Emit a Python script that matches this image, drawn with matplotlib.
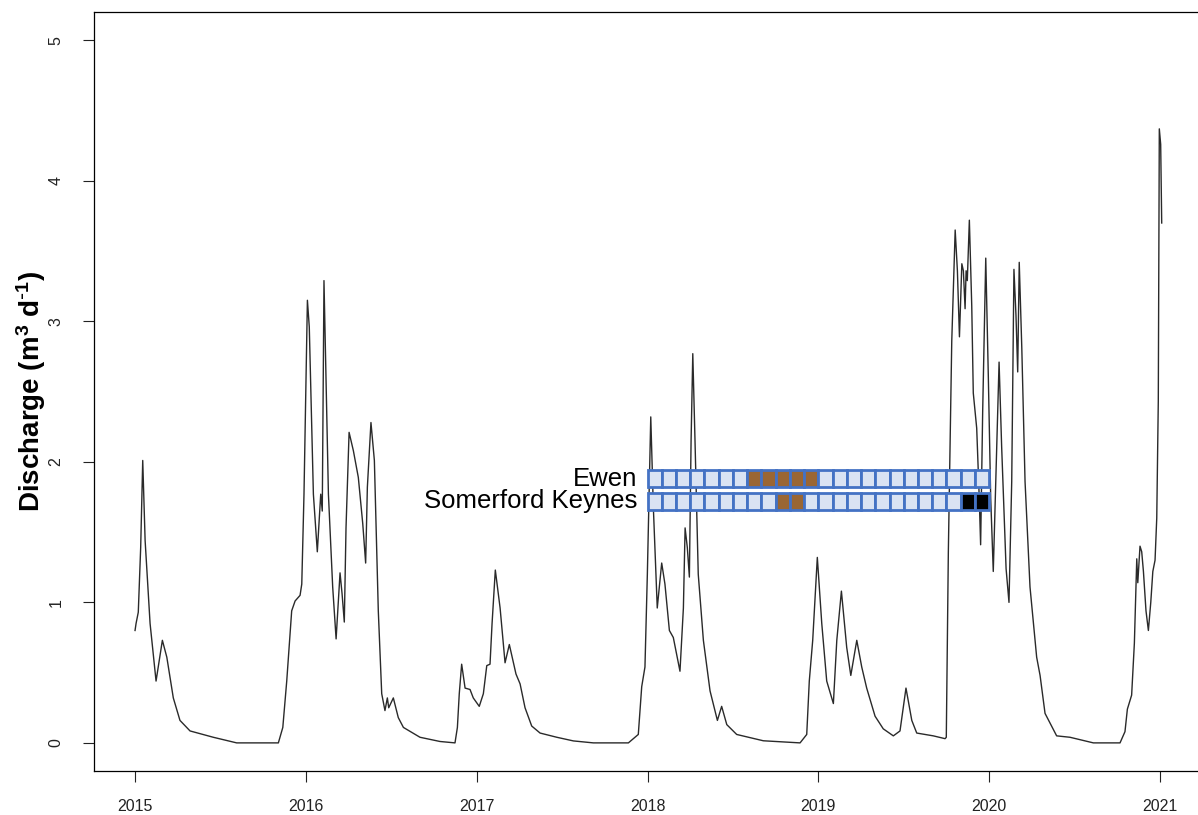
import matplotlib.pyplot as plt
from matplotlib.patches import Rectangle
import numpy as np

plt.rcParams['mathtext.default'] = 'regular'

# Discharge series (decimal year, m3/d)
flow_year = [
    2015.000, 2015.006, 2015.019, 2015.033, 2015.045, 2015.059, 2015.088, 2015.123,
    2015.160, 2015.186, 2015.224, 2015.263, 2015.322, 2015.458, 2015.595, 2015.839,
    2015.865, 2015.888, 2015.917, 2015.937, 2015.966, 2015.976, 2015.989, 2016.009,
    2016.020, 2016.044, 2016.067, 2016.087, 2016.096, 2016.106, 2016.132, 2016.157,
    2016.177, 2016.200, 2016.212, 2016.225, 2016.235, 2016.253, 2016.278, 2016.307,
    2016.333, 2016.350, 2016.360, 2016.381, 2016.401, 2016.424, 2016.444, 2016.463,
    2016.477, 2016.485, 2016.512, 2016.541, 2016.571, 2016.668, 2016.785, 2016.873,
    2016.887, 2016.898, 2016.912, 2016.932, 2016.961, 2016.980, 2017.015, 2017.039,
    2017.059, 2017.078, 2017.090, 2017.109, 2017.137, 2017.166, 2017.191, 2017.230,
    2017.254, 2017.283, 2017.322, 2017.371, 2017.469, 2017.566, 2017.683, 2017.888,
    2017.946, 2017.966, 2017.985, 2017.999, 2018.019, 2018.034, 2018.057, 2018.083,
    2018.102, 2018.128, 2018.151, 2018.190, 2018.210, 2018.220, 2018.233, 2018.245,
    2018.255, 2018.265, 2018.278, 2018.297, 2018.327, 2018.366, 2018.409, 2018.434,
    2018.464, 2018.522, 2018.678, 2018.893, 2018.932, 2018.947, 2018.967, 2018.994,
    2019.020, 2019.049, 2019.088, 2019.108, 2019.135, 2019.166, 2019.190, 2019.225,
    2019.254, 2019.283, 2019.332, 2019.380, 2019.439, 2019.478, 2019.513, 2019.547,
    2019.576, 2019.673, 2019.742, 2019.749, 2019.761, 2019.781, 2019.801, 2019.814,
    2019.826, 2019.840, 2019.849, 2019.859, 2019.865, 2019.872, 2019.884, 2019.898,
    2019.907, 2019.927, 2019.942, 2019.950, 2019.962, 2019.980, 2019.995, 2020.009,
    2020.024, 2020.044, 2020.058, 2020.073, 2020.099, 2020.116, 2020.132, 2020.145,
    2020.157, 2020.167, 2020.176, 2020.191, 2020.210, 2020.239, 2020.278, 2020.298,
    2020.327, 2020.395, 2020.473, 2020.610, 2020.766, 2020.795, 2020.809, 2020.834,
    2020.850, 2020.864, 2020.870, 2020.883, 2020.893, 2020.903, 2020.918, 2020.932,
    2020.946, 2020.958, 2020.971, 2020.981, 2020.990, 2020.996, 2021.004, 2021.010,
]
flow_value = [
    0.80, 0.85, 0.93, 1.39, 2.01, 1.44, 0.85, 0.44,
    0.73, 0.61, 0.32, 0.16, 0.085, 0.04, 0.00, 0.00,
    0.11, 0.44, 0.94, 1.01, 1.05, 1.13, 1.77, 3.15,
    2.96, 1.77, 1.36, 1.77, 1.65, 3.29, 1.77, 1.11,
    0.74, 1.21, 1.06, 0.86, 1.53, 2.21, 2.08, 1.89,
    1.56, 1.28, 1.82, 2.28, 2.01, 0.94, 0.35, 0.23,
    0.32, 0.25, 0.32, 0.18, 0.11, 0.04, 0.01, 0.00,
    0.11, 0.35, 0.56, 0.39, 0.38, 0.32, 0.26, 0.35,
    0.55, 0.56, 0.85, 1.23, 0.96, 0.57, 0.70, 0.49,
    0.42, 0.25, 0.12, 0.07, 0.04, 0.014, 0.00, 0.00,
    0.06, 0.40, 0.54, 1.20, 2.32, 1.68, 0.96, 1.28,
    1.13, 0.80, 0.75, 0.51, 0.96, 1.53, 1.39, 1.18,
    2.15, 2.77, 2.15, 1.20, 0.73, 0.37, 0.16, 0.26,
    0.13, 0.06, 0.015, 0.00, 0.06, 0.44, 0.73, 1.32,
    0.85, 0.44, 0.28, 0.73, 1.08, 0.68, 0.48, 0.73,
    0.54, 0.39, 0.19, 0.10, 0.05, 0.085, 0.39, 0.16,
    0.07, 0.05, 0.03, 0.04, 1.36, 2.86, 3.65, 3.36,
    2.89, 3.41, 3.36, 3.09, 3.36, 3.29, 3.72, 3.11,
    2.49, 2.24, 1.74, 1.41, 2.36, 3.45, 2.61, 1.74,
    1.22, 2.11, 2.71, 2.11, 1.24, 1.00, 1.86, 3.37,
    3.04, 2.64, 3.42, 2.81, 1.86, 1.11, 0.61, 0.48,
    0.21, 0.05, 0.04, 0.00, 0.00, 0.08, 0.24, 0.34,
    0.71, 1.31, 1.14, 1.40, 1.36, 1.22, 0.94, 0.80,
    1.00, 1.22, 1.30, 1.60, 2.43, 4.37, 4.26, 3.70,
]

# Monthly sampling status, Jan 2018 - Dec 2019 (0 = sampled, 1 = brown, 2 = black)
site_names = ['Ewen', 'Somerford Keynes']
ewen_status = [0] * 7 + [1] * 5 + [0] * 12
somerford_status = [0] * 9 + [1] * 2 + [0] * 11 + [2] * 2
site_level = [1.88, 1.72]

status_colors = {0: '#dae3f3', 1: '#9a6633', 2: '#000000'}
edge_blue = '#4472c4'

fig = plt.figure(figsize=(11.98, 8.15), dpi=100)
ax = fig.add_axes([0.0785, 0.054, 0.9240, 0.931])

ax.plot(flow_year, flow_value, color='#2a2a2a', lw=1.0)

# Rows of monthly boxes
box_h = 0.12
for name, status, level in zip(site_names, [ewen_status, somerford_status], site_level):
    for i, s in enumerate(status):
        x0 = 2018 + i / 12
        ax.add_patch(Rectangle((x0, level - box_h / 2), 1 / 12, box_h,
                               facecolor=status_colors[s], edgecolor=edge_blue,
                               lw=2.0, zorder=3))
    ax.text(2018 - 0.06, level, name, ha='right', va='center',
            fontsize=18.5, family='Liberation Sans', zorder=4)

ax.set_xlim(2014.76, 2021.24)
ax.set_ylim(-0.2, 5.2)
ax.set_xticks(np.arange(2015, 2022))
ax.set_xticklabels([str(y) for y in range(2015, 2022)])
ax.set_yticks(np.arange(0, 6))
ax.tick_params(axis='both', direction='out', length=8, width=0.8,
               labelsize=11.5, colors='#222222')
ax.tick_params(axis='x', pad=12)
ax.tick_params(axis='y', pad=14)
for lab in ax.get_yticklabels():
    lab.set_rotation(90)
    lab.set_va('center')
for lab in ax.get_xticklabels() + ax.get_yticklabels():
    lab.set_family('Liberation Sans')

ax.set_ylabel(r'Discharge (m$^3$ d$^{\text{-}1}$)', fontsize=20, fontweight='bold',
              family='Liberation Sans', labelpad=0)
ax.spines['top'].set_linewidth(0.9)
ax.spines['left'].set_linewidth(0.9)
ax.spines['bottom'].set_linewidth(0.9)

fig.savefig('out.png', dpi=100)
